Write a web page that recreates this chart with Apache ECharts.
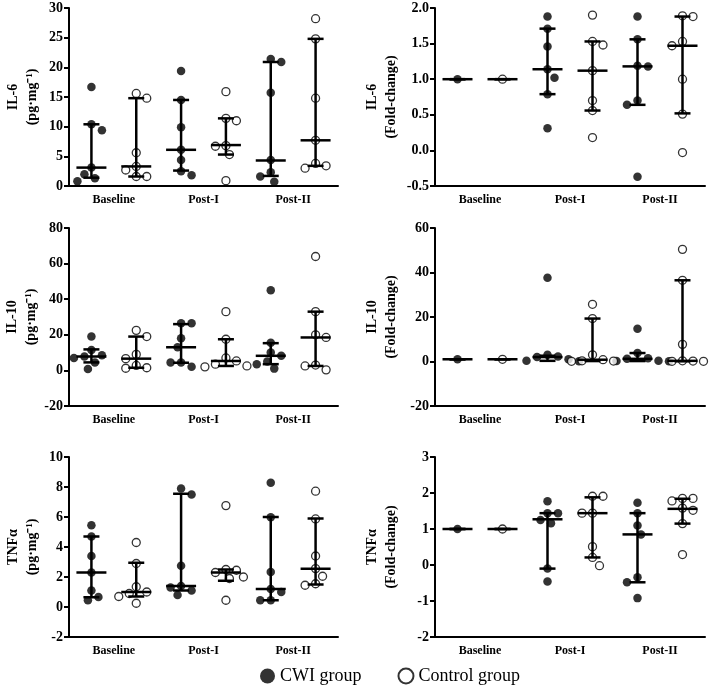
<!DOCTYPE html>
<html>
<head>
<meta charset="utf-8">
<script src="https://cdn.jsdelivr.net/npm/echarts@6/dist/echarts.min.js"></script>
<style>
html, body { margin: 0; padding: 0; background: #fff; }
#chart { width: 709px; height: 691px; }
</style>
</head>
<body>
<div id="chart"></div>
<script>
var categories = ['Baseline', 'Post-I', 'Post-II'];

// IL-6 (pg/mg)
var il6Cwi = [[16.7, 10.4, 9.4, 3.1, 2.0, 1.3, 0.8], [19.4, 14.5, 9.9, 6.1, 4.4, 2.5, 1.8], [21.4, 20.9, 15.7, 4.4, 2.3, 1.6, 0.7]];
var il6Ctl = [[15.6, 14.8, 5.6, 3.3, 2.7, 1.6, 1.6], [15.9, 11.4, 11.0, 6.8, 6.7, 5.3, 0.9], [28.2, 24.8, 14.8, 7.7, 3.8, 3.4, 3.0]];
var il6CwiMed = [3.1, 6.1, 4.3], il6CwiLo = [1.4, 2.6, 1.7], il6CwiHi = [10.4, 14.5, 20.9];
var il6CtlMed = [3.3, 6.9, 7.7], il6CtlLo = [1.6, 5.3, 3.4], il6CtlHi = [14.8, 11.4, 24.8];

// IL-6 fold-change
var il6fCwi = [[1], [1.88, 1.71, 1.46, 1.14, 1.02, 0.79, 0.31], [1.88, 1.56, 1.19, 1.18, 0.70, 0.64, -0.37]];
var il6fCtl = [[1], [1.90, 1.53, 1.48, 1.12, 0.70, 0.56, 0.18], [1.89, 1.88, 1.53, 1.47, 1.00, 0.51, -0.03]];
var il6fCwiMed = [1, 1.14, 1.18], il6fCwiLo = [1, 0.79, 0.64], il6fCwiHi = [1, 1.71, 1.56];
var il6fCtlMed = [1, 1.12, 1.47], il6fCtlLo = [1, 0.56, 0.52], il6fCtlHi = [1, 1.53, 1.88];

// IL-10 (pg/mg)
var il10Cwi = [[19.0, 11.5, 8.5, 7.8, 7.0, 4.5, 0.8], [26.5, 26.5, 18.0, 13.0, 4.5, 4.5, 2.0], [45.0, 15.5, 10.0, 8.2, 5.0, 3.5, 1.0]];
var il10Ctl = [[22.5, 19.0, 9.0, 6.6, 2.8, 1.5, 1.2], [33.0, 17.5, 7.0, 5.3, 3.5, 2.5, 2.0], [64.0, 33.0, 20.0, 18.5, 3.0, 2.5, 0.3]];
var il10CwiMed = [7.8, 13.0, 8.2], il10CwiLo = [4.5, 4.3, 3.5], il10CwiHi = [11.8, 26.0, 15.3];
var il10CtlMed = [6.6, 5.3, 18.5], il10CtlLo = [1.5, 2.5, 2.5], il10CtlHi = [19.0, 17.5, 33.0];

// IL-10 fold-change
var il10fCwi = [[1], [37.6, 3.0, 2.3, 2.0, 1.0, 0.3, 0.1], [14.7, 3.8, 1.5, 1.2, 0.3, 0.2, 0.1]];
var il10fCtl = [[1], [25.7, 19.3, 3.0, 0.8, 0.3, 0.2, 0.1], [50.4, 36.5, 7.7, 0.3, 0.2, 0.1, 0.1]];
var il10fCwiMed = [1, 2.0, 1.2], il10fCwiLo = [1, 0.3, 0.2], il10fCwiHi = [1, 2.6, 3.8];
var il10fCtlMed = [1, 0.8, 0.3], il10fCtlLo = [1, 0.2, 0.1], il10fCtlHi = [1, 19.3, 36.5];

// TNFa (pg/mg)
var tnfCwi = [[5.45, 4.7, 3.4, 2.3, 1.1, 0.67, 0.45], [7.9, 7.5, 2.75, 1.4, 1.3, 1.1, 0.8], [8.28, 5.98, 2.34, 1.2, 1.0, 0.45, 0.45]];
var tnfCtl = [[4.3, 2.9, 1.35, 1.0, 0.9, 0.7, 0.25], [6.76, 2.5, 2.45, 2.3, 2.0, 1.9, 0.45], [7.72, 5.87, 3.4, 2.56, 2.05, 1.55, 1.45]];
var tnfCwiMed = [2.3, 1.4, 1.2], tnfCwiLo = [0.65, 1.1, 0.45], tnfCwiHi = [4.7, 7.55, 6.0];
var tnfCtlMed = [1.0, 2.3, 2.55], tnfCtlLo = [0.7, 1.75, 1.5], tnfCtlHi = [2.95, 2.5, 5.9];

// TNFa fold-change
var tnffCwi = [[1], [1.77, 1.44, 1.44, 1.25, 1.16, -0.1, -0.46], [1.73, 1.44, 1.1, 0.85, -0.34, -0.48, -0.92]];
var tnffCtl = [[1], [1.91, 1.91, 1.44, 1.44, 0.51, 0.21, -0.02], [1.85, 1.85, 1.78, 1.58, 1.52, 1.15, 0.29]];
var tnffCwiMed = [1, 1.27, 0.85], tnffCwiLo = [1, -0.1, -0.48], tnffCwiHi = [1, 1.44, 1.44];
var tnffCtlMed = [1, 1.44, 1.56], tnffCtlLo = [1, 0.21, 1.15], tnffCtlHi = [1, 1.88, 1.84];

var FONT = '"Liberation Serif", "Times New Roman", serif';

var panels = [
    { name: 'IL-6\n(pg·mg⁻¹)', min: 0, max: 30, step: 5, dec: 0,
      cwi: il6Cwi, ctl: il6Ctl, cwiStat: [il6CwiMed, il6CwiLo, il6CwiHi], ctlStat: [il6CtlMed, il6CtlLo, il6CtlHi] },
    { name: 'IL-6\n(Fold-change)', min: -0.5, max: 2, step: 0.5, dec: 1,
      cwi: il6fCwi, ctl: il6fCtl, cwiStat: [il6fCwiMed, il6fCwiLo, il6fCwiHi], ctlStat: [il6fCtlMed, il6fCtlLo, il6fCtlHi] },
    { name: 'IL-10\n(pg·mg⁻¹)', min: -20, max: 80, step: 20, dec: 0,
      cwi: il10Cwi, ctl: il10Ctl, cwiStat: [il10CwiMed, il10CwiLo, il10CwiHi], ctlStat: [il10CtlMed, il10CtlLo, il10CtlHi] },
    { name: 'IL-10\n(Fold-change)', min: -20, max: 60, step: 20, dec: 0,
      cwi: il10fCwi, ctl: il10fCtl, cwiStat: [il10fCwiMed, il10fCwiLo, il10fCwiHi], ctlStat: [il10fCtlMed, il10fCtlLo, il10fCtlHi] },
    { name: 'TNFα\n(pg·mg⁻¹)', min: -2, max: 10, step: 2, dec: 0,
      cwi: tnfCwi, ctl: tnfCtl, cwiStat: [tnfCwiMed, tnfCwiLo, tnfCwiHi], ctlStat: [tnfCtlMed, tnfCtlLo, tnfCtlHi] },
    { name: 'TNFα\n(Fold-change)', min: -2, max: 3, step: 1, dec: 0,
      cwi: tnffCwi, ctl: tnffCtl, cwiStat: [tnffCwiMed, tnffCwiLo, tnffCwiHi], ctlStat: [tnffCtlMed, tnffCtlLo, tnffCtlHi] }
];

var gridTops = [8, 228, 457];
var gridHeights = [178, 178, 180];
var gridLefts = [69, 435];
var gridWidths = [269, 270];

// simple beeswarm: spread points that would overlap, in pixels,
// picking the emptier side when both sides are free
function swarm(vals, pxPerUnit) {
    var placed = [];
    var offs = [];
    var order = vals.map(function (v, i) { return i; })
        .sort(function (a, b) { return vals[b] - vals[a]; });
    function isFree(dx, y) {
        return placed.every(function (p) {
            return Math.hypot(p[0] - dx, p[1] - y) >= 9.5;
        });
    }
    order.forEach(function (i) {
        var y = vals[i] * pxPerUnit;
        for (var k = 0; k < 20; k++) {
            var m = k * 3.5;
            var left = isFree(-m, y), right = isFree(m, y);
            if (!left && !right) continue;
            var dx;
            if (left && right && m > 0) {
                var bal = placed.reduce(function (s, p) { return s + p[0]; }, 0);
                dx = bal > 0 ? -m : m;
            } else {
                dx = left ? -m : m;
            }
            placed.push([dx, y]);
            offs[i] = dx;
            break;
        }
    });
    return offs;
}

function renderBar(params, api) {
    var x = api.value(0);
    var pm = api.coord([x, api.value(1)]);
    var pl = api.coord([x, api.value(2)]);
    var ph = api.coord([x, api.value(3)]);
    var st = { stroke: '#000', lineWidth: 2.5 };
    return {
        type: 'group',
        children: [
            { type: 'line', shape: { x1: pl[0], y1: pl[1], x2: ph[0], y2: ph[1] }, style: st },
            { type: 'line', shape: { x1: pl[0] - 8, y1: pl[1], x2: pl[0] + 8, y2: pl[1] }, style: st },
            { type: 'line', shape: { x1: ph[0] - 8, y1: ph[1], x2: ph[0] + 8, y2: ph[1] }, style: st },
            { type: 'line', shape: { x1: pm[0] - 15, y1: pm[1], x2: pm[0] + 15, y2: pm[1] }, style: st }
        ]
    };
}

var grid = [], xAxis = [], yAxis = [], series = [];

panels.forEach(function (p, i) {
    var row = Math.floor(i / 2), col = i % 2;
    var h = gridHeights[row], w = gridWidths[col];
    grid.push({ left: gridLefts[col], top: gridTops[row], width: w, height: h });

    xAxis.push({
        type: 'category', gridIndex: i, data: categories, boundaryGap: true,
        axisLine: { onZero: false, lineStyle: { color: '#000', width: 2 } },
        axisTick: { alignWithLabel: true, length: 4, lineStyle: { width: 2, color: '#000' } },
        axisLabel: { color: '#000', fontFamily: FONT, fontWeight: 'bold', fontSize: 12, margin: 8 }
    });
    xAxis.push({ type: 'value', gridIndex: i, min: 0, max: 3, show: false });

    yAxis.push({
        type: 'value', gridIndex: i, min: p.min, max: p.max, interval: p.step,
        name: p.name, nameLocation: 'middle', nameRotate: 90, nameGap: col ? 34 : 27,
        nameTextStyle: { color: '#000', fontFamily: FONT, fontWeight: 'bold', fontSize: 14, lineHeight: 19 },
        axisLine: { show: true, onZero: false, lineStyle: { color: '#000', width: 2 } },
        axisTick: { show: true, length: 5, lineStyle: { width: 2, color: '#000' } },
        splitLine: { show: false },
        axisLabel: {
            color: '#000', fontFamily: FONT, fontWeight: 'bold', fontSize: 14, margin: 6,
            formatter: function (v) { return v.toFixed(p.dec); }
        }
    });

    var pxPerUnit = h / (p.max - p.min);
    var catW = w / 3;

    [['CWI group', p.cwi, p.cwiStat, 0.25], ['Control group', p.ctl, p.ctlStat, 0.75]].forEach(function (g, gi) {
        var pts = [], bars = [];
        g[1].forEach(function (vals, c) {
            var offs = swarm(vals, pxPerUnit);
            vals.forEach(function (v, k) {
                pts.push([c + g[3] + offs[k] / catW, v]);
            });
            bars.push([c + g[3], g[2][0][c], g[2][1][c], g[2][2][c]]);
        });
        series.push({
            name: g[0], type: 'scatter', xAxisIndex: 2 * i + 1, yAxisIndex: i,
            symbol: 'circle', symbolSize: gi ? 8 : 8.5, z: 2,
            itemStyle: gi ? { color: '#fff', borderColor: '#000', borderWidth: 1.3 } : { color: '#000' },
            data: pts
        });
        series.push({
            type: 'custom', xAxisIndex: 2 * i + 1, yAxisIndex: i, z: 3,
            renderItem: renderBar, encode: { x: 0, y: 1 }, data: bars
        });
    });
});

var chart = echarts.init(document.getElementById('chart'));
chart.setOption({
    animation: false,
    grid: grid,
    xAxis: xAxis,
    yAxis: yAxis,
    legend: {
        data: ['CWI group', 'Control group'],
        left: 255, top: 662,
        icon: 'circle', itemWidth: 15, itemHeight: 15, itemGap: 36,
        textStyle: { color: '#000', fontFamily: FONT, fontSize: 18 }
    },
    series: series
});
</script>
</body>
</html>
